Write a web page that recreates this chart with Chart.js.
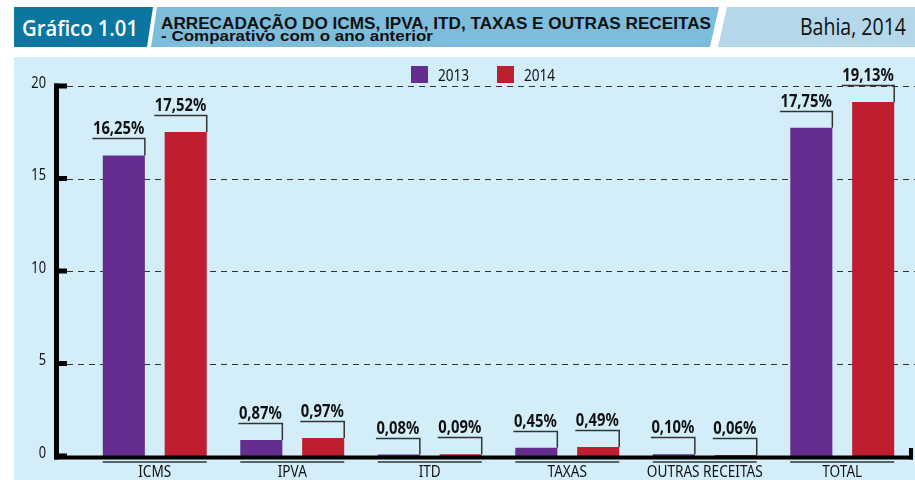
<!DOCTYPE html>
<html>
<head>
<meta charset="utf-8">
<script src="https://cdn.jsdelivr.net/npm/chart.js@4/dist/chart.umd.min.js"></script>
<style>
  body { margin: 0; width: 915px; height: 480px; overflow: hidden; background: #fff; position: relative; }
  #cab { position: absolute; left: 0; top: 0; }
  #bg { position: absolute; left: 14px; top: 57px; width: 901px; height: 423px; background: #d3eef9; }
  #wrap { position: absolute; left: 8px; top: 52px; width: 907px; height: 428px; }
</style>
</head>
<body>
<svg id="cab" width="915" height="52">
  <polygon points="14,7 153,7 147,47 14,47" fill="#0b76a0"/>
  <polygon points="157,7 719,7 710,47 151,47" fill="#7dbddb"/>
  <polygon points="727,7 915,7 915,47 718,47" fill="#b4d7e9"/>
  <text x="22" y="36" fill="#fff" font-family="Open Sans" font-weight="600" font-size="21" textLength="116" lengthAdjust="spacingAndGlyphs">Gráfico 1.01</text>
  <text x="161" y="29" fill="#111" font-family="Liberation Sans" font-weight="bold" font-size="16.5" textLength="550" lengthAdjust="spacingAndGlyphs">ARRECADAÇÃO DO ICMS, IPVA, ITD, TAXAS E OUTRAS RECEITAS</text>
  <text x="161" y="41" fill="#111" font-family="Liberation Sans" font-weight="bold" font-size="14" textLength="272" lengthAdjust="spacingAndGlyphs">- Comparativo com o ano anterior</text>
  <text x="800" y="35" fill="#111" font-family="Open Sans" font-size="23" textLength="106" lengthAdjust="spacingAndGlyphs">Bahia, 2014</text>
</svg>
<div id="bg"></div>
<div id="wrap"><canvas id="grafico" width="907" height="428"></canvas></div>
<script>
const categorias = ["ICMS", "IPVA", "ITD", "TAXAS", "OUTRAS RECEITAS", "TOTAL"];
const valores2013 = [16.25, 0.87, 0.08, 0.45, 0.10, 17.75];
const valores2014 = [17.52, 0.97, 0.09, 0.49, 0.06, 19.13];
const ticksY = [0, 5, 10, 15, 20];

const FONTE = '"Noto Sans", sans-serif';
const ESTREITO = 0.8; // fonte condensada simulada

function texto(ctx, txt, x, y, font, align) {
  ctx.save();
  ctx.font = font;
  ctx.textAlign = align;
  ctx.textBaseline = "alphabetic";
  ctx.translate(x, y);
  ctx.scale(ESTREITO, 1);
  ctx.fillText(txt, 0, 0);
  ctx.restore();
}

// eixos, grade tracejada, legenda e rótulos com colchete
const desenhoExtra = {
  id: "desenhoExtra",
  beforeDatasetsDraw(chart) {
    const ctx = chart.ctx, y = chart.scales.y;
    ctx.save();
    ctx.strokeStyle = "#333";
    ctx.lineWidth = 1;
    ctx.setLineDash([6, 5]);
    ticksY.forEach(v => {
      if (v === 0) return;
      const py = Math.round(y.getPixelForValue(v)) + 0.5;
      ctx.beginPath();
      ctx.moveTo(59, py);
      ctx.lineTo(chart.width, py);
      ctx.stroke();
    });
    ctx.restore();
  },
  afterDatasetsDraw(chart) {
    const ctx = chart.ctx, x = chart.scales.x, y = chart.scales.y, area = chart.chartArea;
    const y0 = y.getPixelForValue(0), yTop = y.getPixelForValue(20);
    ctx.save();
    ctx.fillStyle = "#000";
    // eixo vertical
    ctx.fillRect(46, yTop - 2.5, 5, y0 - yTop + 6);
    ticksY.forEach(v => {
      ctx.fillRect(46, y.getPixelForValue(v) - 2.5, 13, 5);
    });
    // eixo horizontal
    ctx.fillRect(46, y0 - 0.5, area.right + 2 - 46, 4);
    ctx.fillRect(area.right - 2, y0 - 8, 4, 11.5);

    ctx.fillStyle = "#111";
    ticksY.forEach(v => {
      texto(ctx, String(v), 38, y.getPixelForValue(v) + 1.5, "16px " + FONTE, "right");
    });

    // linhas e nomes das categorias
    const m0 = chart.getDatasetMeta(0), m1 = chart.getDatasetMeta(1);
    ctx.strokeStyle = "#333";
    ctx.lineWidth = 1.5;
    m0.data.forEach((b, i) => {
      const b2 = m1.data[i];
      ctx.beginPath();
      ctx.moveTo(b.x - b.width / 2, 410);
      ctx.lineTo(b2.x + b2.width / 2, 410);
      ctx.stroke();
      texto(ctx, categorias[i], x.getPixelForValue(i), 425, "17px " + FONTE, "center");
    });

    // rótulos de valor
    const fonteValor = "bold 18.5px " + FONTE;
    chart.data.datasets.forEach((ds, di) => {
      chart.getDatasetMeta(di).data.forEach((b, i) => {
        const txt = ds.data[i].toFixed(2).replace(".", ",") + "%";
        ctx.font = fonteValor;
        const tw = ctx.measureText(txt).width * ESTREITO;
        const dir = b.x + b.width / 2;
        const ly = Math.round(b.y - 17) + 0.5;
        ctx.beginPath();
        ctx.moveTo(dir - tw - 1, ly);
        ctx.lineTo(dir, ly);
        ctx.lineTo(dir, b.y);
        ctx.stroke();
        texto(ctx, txt, dir - tw / 2 - 0.5, ly - 5, fonteValor, "center");
      });
    });

    // legenda
    let lx = 403;
    chart.data.datasets.forEach(ds => {
      ctx.fillStyle = ds.backgroundColor;
      ctx.fillRect(lx, 14, 17, 17);
      ctx.fillStyle = "#111";
      texto(ctx, ds.label, lx + 27, 29, "17px " + FONTE, "left");
      lx += 86;
    });
    ctx.restore();
  }
};

new Chart(document.getElementById("grafico"), {
  type: "bar",
  data: {
    labels: categorias,
    datasets: [
      { label: "2013", data: valores2013, backgroundColor: "#652d90" },
      { label: "2014", data: valores2014, backgroundColor: "#be1e2d" }
    ]
  },
  options: {
    responsive: false,
    animation: false,
    layout: { padding: { top: 34, left: 0, right: 4, bottom: 0 } },
    datasets: { bar: { categoryPercentage: 0.9, barPercentage: 0.68 } },
    plugins: { legend: { display: false }, tooltip: { enabled: false } },
    scales: {
      x: {
        grid: { display: false, drawTicks: false },
        border: { display: false },
        ticks: { display: false },
        afterFit(s) { s.height = 24; }
      },
      y: {
        min: 0, max: 20,
        grid: { display: false, drawTicks: false },
        border: { display: false },
        ticks: { display: false, stepSize: 5 },
        afterFit(s) { s.width = 78; }
      }
    }
  },
  plugins: [desenhoExtra]
});
</script>
</body>
</html>
